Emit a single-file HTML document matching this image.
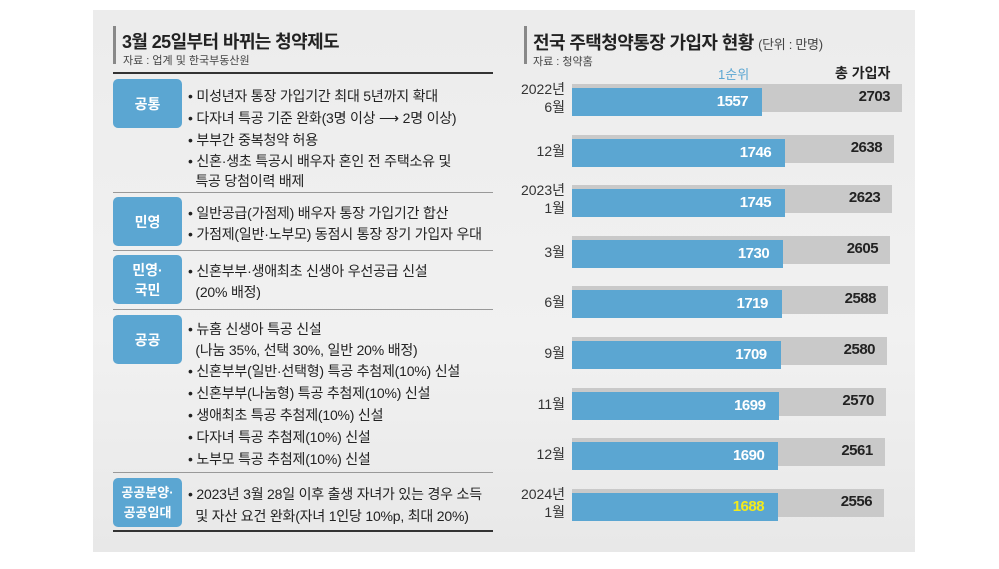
<!DOCTYPE html>
<html><head><meta charset="utf-8"><style>
body{margin:0;width:999px;height:569px;background:#fff;position:relative;overflow:hidden;font-family:"Liberation Sans","Noto Sans CJK KR",sans-serif;}
#panel{position:absolute;left:93px;top:10px;width:822px;height:542px;background:linear-gradient(#ececec,#f1f1f1 60%,#e8e8e8);}
.abs{position:absolute;}
.tag{position:absolute;left:113px;width:69px;height:49px;background:#5ba6d2;border-radius:5px;color:#fff;font-size:14px;font-weight:bold;display:flex;align-items:center;justify-content:center;text-align:center;line-height:20px;}
.ln{position:absolute;left:188px;font-size:14px;letter-spacing:-0.2px;color:#222;white-space:nowrap;}
.sep{position:absolute;left:113px;width:380px;height:1px;background:#999;}
.yl{position:absolute;right:434px;font-size:14px;color:#333;text-align:right;line-height:18px;}
</style></head><body>
<div id="panel"></div>
<div class="abs" style="left:113px;top:26px;width:3px;height:38px;background:#888"></div>
<div class="abs" style="left:122px;top:28px;font-size:18px;letter-spacing:-0.6px;font-weight:bold;color:#222">3월 25일부터 바뀌는 청약제도</div>
<div class="abs" style="left:123px;top:52px;font-size:11px;color:#444">자료 : 업계 및 한국부동산원</div>
<div class="abs" style="left:113px;top:72px;width:380px;height:2px;background:#333"></div>

<div class="tag" style="top:79px">공통</div>
<div class="ln" style="top:86px">• 미성년자 통장 가입기간 최대 5년까지 확대</div>
<div class="ln" style="top:108px">• 다자녀 특공 기준 완화(3명 이상 ⟶ 2명 이상)</div>
<div class="ln" style="top:130px">• 부부간 중복청약 허용</div>
<div class="ln" style="top:151px">• 신혼·생초 특공시 배우자 혼인 전 주택소유 및</div>
<div class="ln" style="top:171px">&nbsp;&nbsp;특공 당첨이력 배제</div>
<div class="sep" style="top:192px"></div>

<div class="tag" style="top:197px">민영</div>
<div class="ln" style="top:203px">• 일반공급(가점제) 배우자 통장 가입기간 합산</div>
<div class="ln" style="top:224px">• 가점제(일반·노부모) 동점시 통장 장기 가입자 우대</div>
<div class="sep" style="top:250px"></div>

<div class="tag" style="top:255px">민영·<br>국민</div>
<div class="ln" style="top:261px">• 신혼부부·생애최초 신생아 우선공급 신설</div>
<div class="ln" style="top:282px">&nbsp;&nbsp;(20% 배정)</div>
<div class="sep" style="top:309px"></div>

<div class="tag" style="top:315px">공공</div>
<div class="ln" style="top:319px">• 뉴홈 신생아 특공 신설</div>
<div class="ln" style="top:340px">&nbsp;&nbsp;(나눔 35%, 선택 30%, 일반 20% 배정)</div>
<div class="ln" style="top:361px">• 신혼부부(일반·선택형) 특공 추첨제(10%) 신설</div>
<div class="ln" style="top:383px">• 신혼부부(나눔형) 특공 추첨제(10%) 신설</div>
<div class="ln" style="top:405px">• 생애최초 특공 추첨제(10%) 신설</div>
<div class="ln" style="top:427px">• 다자녀 특공 추첨제(10%) 신설</div>
<div class="ln" style="top:449px">• 노부모 특공 추첨제(10%) 신설</div>
<div class="sep" style="top:472px"></div>

<div class="tag" style="top:478px;font-size:13px">공공분양·<br>공공임대</div>
<div class="ln" style="top:484px">• 2023년 3월 28일 이후 출생 자녀가 있는 경우 소득</div>
<div class="ln" style="top:506px">&nbsp;&nbsp;및 자산 요건 완화(자녀 1인당 10%p, 최대 20%)</div>
<div class="abs" style="left:113px;top:530px;width:380px;height:2px;background:#333"></div>

<div class="abs" style="left:524px;top:26px;width:3px;height:38px;background:#888"></div>
<div class="abs" style="left:533px;top:29px;font-size:18px;letter-spacing:-0.6px;font-weight:bold;color:#222;white-space:nowrap">전국 주택청약통장 가입자 현황 <span style="font-size:13px;font-weight:normal;color:#444;letter-spacing:-0.3px">(단위 : 만명)</span></div>
<div class="abs" style="left:533px;top:53px;font-size:11px;color:#444">자료 : 청약홈</div>
<div class="abs" style="left:718px;top:64px;font-size:13px;color:#5ba6d2">1순위</div>
<div class="abs" style="left:835px;top:63px;font-size:14px;font-weight:bold;color:#222">총 가입자</div>
<div id="chart"></div>
<script>
const categories=["2022년<br>6월","12월","2023년<br>1월","3월","6월","9월","11월","12월","2024년<br>1월"];
const firstRank=[1557,1746,1745,1730,1719,1709,1699,1690,1688];
const totals=[2703,2638,2623,2605,2588,2580,2570,2561,2556];
const x0=572,k=0.1221,y0=84,step=50.6,h=28;
const xs=v=>x0+v*k, ys=i=>y0+i*step;
const c=document.getElementById('chart');
categories.forEach((cat,i)=>{
  const y=ys(i);
  const g=document.createElement('div');
  
  
  g.style.cssText=`position:absolute;left:${x0}px;top:${y}px;width:${xs(totals[i])-x0}px;height:${h}px;background:#c9c9c9;`;
  c.appendChild(g);
  const b=document.createElement('div');
  
  
  b.style.cssText=`position:absolute;left:${x0}px;top:${y+4}px;width:${xs(firstRank[i])-x0}px;height:${h}px;background:#5ba6d2;`;
  c.appendChild(b);
  const bl=document.createElement('div');
  
  
  bl.textContent=firstRank[i];
  bl.style.cssText=`position:absolute;left:${xs(firstRank[i])-80}px;width:66px;text-align:right;top:${y+9}px;font-size:15px;font-weight:bold;letter-spacing:-0.5px;color:${i==categories.length-1?'#f2ea1c':'#fff'};`;
  c.appendChild(bl);
  const tl=document.createElement('div');
  
  
  tl.textContent=totals[i];
  tl.style.cssText=`position:absolute;left:${xs(totals[i])-80}px;width:68px;text-align:right;top:${y+4}px;font-size:15px;font-weight:bold;letter-spacing:-0.5px;color:#222;`;
  c.appendChild(tl);
  const yl=document.createElement('div');
  
  
  yl.className='yl';
  yl.innerHTML=cat;
  const two=cat.includes('<br>');
  yl.style.top=(two?y-4:y+7)+'px';
  c.appendChild(yl);
});
</script>
</body></html>
